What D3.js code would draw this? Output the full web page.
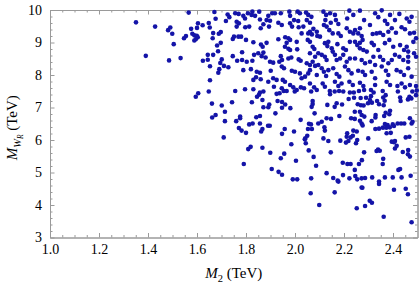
<!DOCTYPE html>
<html>
<head>
<meta charset="utf-8">
<script src="https://cdn.jsdelivr.net/npm/d3@7"></script>
<style>
  body { margin: 0; background: #fff; }
  #chart { width: 420px; height: 289px; }
  svg text { font-family: "Liberation Serif", "DejaVu Serif", serif; }
</style>
</head>
<body>
<div id="chart"></div>
<script>
// axis ranges and ticks
const m2Domain = [1.0, 2.5];
const mwrDomain = [3, 10];
const m2Ticks = [1.0, 1.2, 1.4, 1.6, 1.8, 2.0, 2.2, 2.4];
const m2MinorTicks = [1.05, 1.1, 1.15, 1.25, 1.3, 1.35, 1.45, 1.5, 1.55, 1.65, 1.7, 1.75,
                      1.85, 1.9, 1.95, 2.05, 2.1, 2.15, 2.25, 2.3, 2.35, 2.45];
const mwrTicks = [3, 4, 5, 6, 7, 8, 9, 10];
const mwrMinorTicks = [3.2, 3.4, 3.6, 3.8, 4.2, 4.4, 4.6, 4.8, 5.2, 5.4, 5.6, 5.8, 6.2, 6.4, 6.6, 6.8,
                       7.2, 7.4, 7.6, 7.8, 8.2, 8.4, 8.6, 8.8, 9.2, 9.4, 9.6, 9.8];

// scan points: [M2 (TeV), M_WR (TeV)]
const scanPoints = [
  [1.351,9.62],[1.566,9.92],[1.429,9.49],[1.482,9.38],[1.491,9.46],[1.499,9.27],[1.505,8.95],[1.391,8.59],
  [1.486,8.45],[1.533,8.52],[1.576,9.42],[1.604,9.59],[1.623,9.53],[1.600,9.45],[1.581,9.27],[1.589,9.22],
  [1.599,9.21],[1.603,9.16],[1.595,9.10],[1.589,9.06],[1.555,9.20],[1.547,9.13],[1.648,9.60],[1.652,9.46],
  [1.671,9.94],[1.676,9.73],[1.725,9.86],[1.732,9.78],[1.718,9.66],[1.666,9.29],[1.689,9.27],[1.697,9.32],
  [1.664,9.13],[1.697,8.99],[1.682,8.91],[1.686,8.73],[1.666,8.62],[1.644,8.62],[1.644,8.47],[1.624,8.44],
  [1.701,8.48],[1.695,8.37],[1.710,8.28],[1.728,8.24],[1.653,8.27],[1.691,8.18],[1.687,8.07],[1.653,7.84],
  [1.605,7.44],[1.595,7.33],[1.648,7.49],[1.661,7.12],[1.701,7.06],[1.714,6.87],[1.676,6.77],[1.662,6.69],
  [1.714,6.58],[1.709,6.08],
  [1.756,7.51],[1.743,7.16],[1.760,6.58],[1.776,6.72],[1.776,6.67],[1.771,6.37],[1.782,6.29],[1.800,6.22],
  [1.813,6.48],[1.827,6.51],[1.842,6.70],[1.857,6.74],[1.857,6.51],[1.824,7.16],[1.845,7.33],[1.853,7.39],
  [1.857,7.46],[1.871,7.49],[1.867,7.23],[1.871,7.01],[1.891,7.01],[1.895,7.09],[1.890,6.44],[1.897,6.44],
  [1.867,6.34],[1.862,6.26],[1.920,6.82],[1.925,7.42],[1.937,7.44],[1.954,7.51],[1.966,7.51],[1.929,7.20],
  [1.947,7.17],[1.960,7.09],[1.947,6.99],[1.981,6.98],[1.999,7.49],[2.007,7.54],[2.066,7.49],[2.072,7.20],
  [2.072,7.11],[2.068,7.02],[2.080,6.82],[2.023,6.62],[2.057,6.50],[2.065,6.48],[2.095,6.51],[2.053,6.34],
  [2.069,6.34],[1.958,6.34],[1.947,6.19],[1.996,6.26],[2.050,6.13],[2.042,6.05],[2.040,6.02],[2.044,5.90],
  [1.985,5.87],[2.056,5.68],[1.819,5.79],[1.809,5.72],[1.867,5.76],[1.899,5.61],[1.956,5.58],[1.942,5.44],
  [2.076,5.48],[2.004,5.36],[1.791,5.26],[2.086,5.21],[1.905,5.11],[1.933,5.02],[1.947,4.93],[1.991,4.79],
  [2.009,4.79],[2.066,4.82],[2.064,4.36],[2.099,4.00],
  [2.162,4.39],[2.177,4.72],[2.272,4.54],[2.252,3.90],[2.286,3.97],[2.305,4.13],[2.314,4.07],[2.343,4.72],
  [2.343,4.65],[2.362,3.64],[2.404,4.47],[2.452,4.50],[2.461,4.33],[2.476,3.47],
  [2.142,7.51],[2.162,7.49],[2.180,7.51],[2.197,7.49],[2.224,7.46],[2.240,7.46],[2.261,7.51],[2.282,7.54],
  [2.310,7.54],[2.321,7.46],[2.143,7.41],[2.358,7.51],[2.370,7.38],[2.360,7.31],[2.420,7.49],[2.479,7.49],
  [2.497,7.52],[2.467,7.33],[2.475,7.28],[2.461,7.25],[2.429,7.31],[2.431,7.20],[2.268,7.29],[2.290,7.30],
  [2.310,7.35],[2.306,7.23],[2.314,7.15],[2.298,7.13],[2.335,7.20],[2.343,7.10],[2.362,7.07],[2.366,7.21],
  [2.241,7.30],[2.219,7.26],[2.256,7.10],[2.269,7.07],[2.280,7.06],[2.192,7.09],[2.170,7.13],[2.162,7.02],
  [2.132,7.08],[2.244,6.87],[2.265,6.87],[2.272,6.77],[2.283,6.72],[2.265,6.59],[2.272,6.51],[2.276,6.45],
  [2.229,6.67],[2.244,6.65],[2.181,6.74],[2.147,6.65],[2.129,6.67],[2.109,6.56],[2.120,6.39],[2.122,6.29],
  [2.370,6.84],[2.388,6.90],[2.385,6.79],[2.364,6.74],[2.329,6.77],[2.328,6.69],[2.313,6.58],[2.419,6.51],
  [2.433,6.51],[2.446,6.51],[2.476,6.51],[2.469,6.67],[2.480,6.56],[2.494,7.38],[2.367,6.49],[2.378,6.46],
  [2.399,6.48],[2.404,6.43],[2.387,6.39],[2.373,6.38],[2.359,6.38],[2.343,6.35],[2.328,6.34],[2.374,6.21],
  [2.391,6.22],[2.452,6.08],[2.467,6.10],[2.408,5.97],[2.395,5.95],[2.299,6.05],[2.238,6.29],[2.252,6.26],
  [2.236,6.13],[2.227,6.08],[2.213,6.21],[2.211,6.10],[2.208,5.92],[2.218,5.97],[2.254,6.00],[2.249,5.90],
  [2.185,5.98],[2.116,6.05],[2.136,5.97],[2.146,5.62],[2.129,4.98],[2.156,4.83],[2.174,4.75],[2.195,5.30],
  [2.214,5.26],[2.227,5.26],[2.196,4.92],[2.222,4.82],[2.244,5.08],[2.261,5.26],[2.246,4.89],[2.254,4.79],
  [2.272,4.82],[2.275,4.53],[2.286,4.83],[2.282,5.62],[2.273,5.38],[2.315,4.85],[2.339,5.71],[2.346,5.67],
  [2.333,5.66],[2.360,5.42],[2.358,5.26],[2.367,4.85],[2.404,5.93],[2.408,5.74],[2.415,5.82],[2.399,4.85],
  [2.422,5.08],[2.429,5.11],[2.440,5.63],[2.462,5.69],[2.461,5.56],[2.469,5.49],[2.435,4.85],[2.472,4.90],
  [1.756,9.90],[1.770,9.88],[1.762,9.64],[1.771,9.59],[1.762,9.49],[1.789,9.82],[1.796,9.74],[1.797,9.47],
  [1.813,9.49],[1.808,9.90],[1.826,9.95],[1.823,9.85],[1.837,9.82],[1.854,9.95],[1.857,9.71],[1.884,9.69],
  [1.891,9.82],[1.898,9.67],[1.894,9.49],[1.907,9.90],[1.918,9.90],[1.942,9.90],[1.871,9.56],[1.860,9.44],
  [1.932,9.61],[1.946,9.54],[1.977,9.95],[1.980,9.82],[2.011,9.95],[2.020,9.90],[2.045,9.92],[2.054,9.85],
  [2.067,9.79],[1.996,9.69],[2.013,9.66],[1.980,9.59],[1.988,9.49],[2.048,9.69],[2.061,9.61],[2.015,9.47],
  [2.034,9.49],[2.075,9.42],[2.089,9.33],[2.027,9.28],[2.054,9.28],[2.069,9.25],[1.751,9.18],[1.746,9.11],
  [1.769,9.18],[1.780,9.18],[1.800,9.08],[1.830,9.01],[1.861,8.94],[1.868,8.87],[1.884,8.99],[1.932,9.10],
  [1.960,9.16],[1.973,9.13],[1.966,8.99],[1.980,9.08],[2.007,9.02],[2.052,9.08],[2.061,9.02],[1.959,8.87],
  [1.973,8.81],[1.980,8.77],[2.009,8.79],[2.072,8.87],[2.079,8.80],[1.746,8.58],[1.764,8.44],[1.784,8.46],
  [1.784,8.70],[1.803,8.41],[1.826,8.44],[1.833,8.62],[1.850,8.67],[1.871,8.69],[1.864,8.58],[1.880,8.54],
  [1.898,8.41],[1.911,8.38],[1.936,8.41],[1.947,8.46],[1.942,8.58],[1.973,8.51],[1.985,8.54],[2.015,8.48],
  [2.023,8.44],[2.048,8.36],[2.061,8.31],[2.072,8.41],[2.082,8.56],[1.789,8.15],[1.820,8.18],[1.844,8.10],
  [1.857,8.07],[1.901,8.13],[1.946,8.26],[1.955,8.21],[1.987,8.13],[2.000,8.10],[2.020,8.05],[2.027,7.90],
  [2.041,7.95],[2.061,8.15],[2.054,8.05],[2.082,8.28],[2.095,8.31],[1.891,7.79],[1.911,7.90],[1.925,7.85],
  [1.950,7.85],[1.959,7.79],[1.860,7.87],[1.830,7.85],[1.841,7.93],[1.796,7.56],[1.830,7.56],[1.914,7.64],
  [1.946,7.59],[1.980,7.69],[1.993,7.62],[2.024,7.62],[2.037,7.59],[2.061,7.74],[2.078,7.62],[2.089,7.54],
  [2.116,9.95],[2.127,9.85],[2.124,9.69],[2.118,9.54],[2.143,9.90],[2.163,9.85],[2.146,9.61],[2.167,9.69],
  [2.177,9.57],[2.222,9.98],[2.238,9.85],[2.213,9.74],[2.265,9.98],[2.282,9.69],[2.306,9.54],[2.327,9.90],
  [2.340,9.78],[2.354,9.99],[2.367,9.67],[2.377,9.57],[2.388,9.85],[2.408,9.69],[2.426,9.88],[2.456,9.74],
  [2.467,9.64],[2.476,9.79],[2.435,9.47],[2.449,9.41],[2.061,9.33],[2.091,9.20],[2.102,9.18],[2.129,9.49],
  [2.140,9.38],[2.154,9.28],[2.177,9.28],[2.187,9.20],[2.211,9.44],[2.224,9.33],[2.238,9.28],[2.245,9.38],
  [2.265,9.44],[2.258,9.28],[2.272,9.20],[2.317,9.26],[2.333,9.28],[2.347,9.30],[2.360,9.23],[2.381,9.33],
  [2.395,9.44],[2.412,9.30],[2.469,9.28],[2.486,9.30],[2.122,8.98],[2.136,9.02],[2.132,8.89],[2.150,8.82],
  [2.173,8.95],[2.197,8.82],[2.208,8.77],[2.224,9.02],[2.245,9.02],[2.254,8.92],[2.265,8.99],[2.276,9.08],
  [2.265,8.82],[2.279,8.77],[2.293,8.72],[2.313,8.99],[2.322,8.92],[2.340,8.77],[2.367,8.98],[2.385,9.08],
  [2.401,8.87],[2.429,8.92],[2.445,8.77],[2.456,8.87],[2.462,8.72],[2.462,8.56],[2.483,9.02],[2.494,9.13],
  [2.061,8.67],[2.095,8.67],[2.109,8.62],[2.122,8.56],[2.129,8.46],[2.154,8.72],[2.163,8.62],[2.170,8.46],
  [2.184,8.51],[2.197,8.62],[2.211,8.41],[2.224,8.51],[2.245,8.51],[2.272,8.46],[2.286,8.36],[2.306,8.41],
  [2.320,8.56],[2.327,8.31],[2.347,8.56],[2.360,8.46],[2.381,8.36],[2.395,8.46],[2.408,8.62],[2.426,8.56],
  [2.442,8.46],[2.462,8.41],[2.486,8.67],[2.494,8.56],[2.089,8.00],[2.109,8.21],[2.118,8.10],[2.127,7.97],
  [2.136,8.15],[2.156,8.21],[2.170,8.03],[2.181,7.95],[2.204,8.26],[2.218,8.15],[2.231,8.05],[2.258,8.13],
  [2.276,8.10],[2.286,8.00],[2.313,8.10],[2.327,7.90],[2.354,8.26],[2.371,8.13],[2.381,8.00],[2.415,8.15],
  [2.431,8.10],[2.445,8.00],[2.462,8.21],[2.476,7.95],[2.113,7.74],[2.122,7.64],[2.163,7.79],[2.177,7.66],
  [2.190,7.74],[2.222,7.79],[2.236,7.69],[2.265,7.76],[2.279,7.66],[2.327,7.69],[2.374,7.79],[2.388,7.69],
  [2.418,7.66],[2.435,7.74],[2.449,7.62],[2.469,7.69],[2.494,7.66]
];

const chart = {};

chart.create = function(config){
  this.config = config;
  this.config.margin = {top: 10, right: 2.5, bottom: 51.5, left: 50};
  this.config.width_svg = 420;
  this.config.height_svg = 289;
  this.config.svg = d3.select(`#${config.target}`)
                      .append('svg')
                      .attr('width', this.config.width_svg)
                      .attr('height', this.config.height_svg);
  this.update();
}

chart.update = function(){
  let margin = this.config.margin,
      width_svg = this.config.width_svg,
      height_svg = this.config.height_svg,
      svg = this.config.svg;
  let frameColor = '#9a9a9a';
  let xScale = d3.scaleLinear()
                 .domain(m2Domain)
                 .range([margin.left, width_svg - margin.right]);
  let yScale = d3.scaleLinear()
                 .domain(mwrDomain)
                 .range([height_svg - margin.bottom, margin.top]);

  // frame ticks (pointing inward), labels only on bottom/left
  let styleAxis = g => g.call(g => g.select('.domain').attr('stroke', frameColor).attr('stroke-width', 1))
                        .call(g => g.selectAll('.tick line').attr('stroke', frameColor))
                        .call(g => g.selectAll('.tick text')
                                    .attr('fill', '#000')
                                    .attr('font-size', '14px'));

  svg.append('g')
     .attr('transform', `translate(0, ${yScale(mwrDomain[0])})`)
     .call(d3.axisBottom(xScale).tickValues(m2Ticks).tickSize(-4.5).tickPadding(7)
             .tickFormat(d3.format('.1f')).tickSizeOuter(0))
     .call(styleAxis);
  svg.append('g')
     .attr('transform', `translate(0, ${yScale(mwrDomain[0])})`)
     .call(d3.axisBottom(xScale).tickValues(m2MinorTicks).tickSize(-2.5).tickFormat('').tickSizeOuter(0))
     .call(styleAxis);
  svg.append('g')
     .attr('transform', `translate(0, ${yScale(mwrDomain[1])})`)
     .call(d3.axisTop(xScale).tickValues(m2Ticks).tickSize(-4.5).tickFormat('').tickSizeOuter(0))
     .call(styleAxis);
  svg.append('g')
     .attr('transform', `translate(0, ${yScale(mwrDomain[1])})`)
     .call(d3.axisTop(xScale).tickValues(m2MinorTicks).tickSize(-2.5).tickFormat('').tickSizeOuter(0))
     .call(styleAxis);

  svg.append('g')
     .attr('transform', `translate(${xScale(m2Domain[0])}, 0)`)
     .call(d3.axisLeft(yScale).tickValues(mwrTicks).tickSize(-4.5).tickPadding(8)
             .tickFormat(d3.format('d')).tickSizeOuter(0))
     .call(styleAxis);
  svg.append('g')
     .attr('transform', `translate(${xScale(m2Domain[0])}, 0)`)
     .call(d3.axisLeft(yScale).tickValues(mwrMinorTicks).tickSize(-2.5).tickFormat('').tickSizeOuter(0))
     .call(styleAxis);
  svg.append('g')
     .attr('transform', `translate(${xScale(m2Domain[1])}, 0)`)
     .call(d3.axisRight(yScale).tickValues(mwrTicks).tickSize(-4.5).tickFormat('').tickSizeOuter(0))
     .call(styleAxis);
  svg.append('g')
     .attr('transform', `translate(${xScale(m2Domain[1])}, 0)`)
     .call(d3.axisRight(yScale).tickValues(mwrMinorTicks).tickSize(-2.5).tickFormat('').tickSizeOuter(0))
     .call(styleAxis);

  // points
  svg.append('g')
     .attr('fill', '#1414a8')
     .selectAll('circle')
     .data(scanPoints)
     .enter().append('circle')
             .attr('cx', d => xScale(d[0]))
             .attr('cy', d => yScale(d[1]))
             .attr('r', 2.3);

  // axis titles
  let xTitle = svg.append('text')
                  .attr('x', (xScale(m2Domain[0]) + xScale(m2Domain[1])) / 2)
                  .attr('y', 278)
                  .attr('text-anchor', 'middle')
                  .attr('font-size', '15px');
  xTitle.append('tspan').attr('font-style', 'italic').text('M');
  xTitle.append('tspan').attr('font-size', '10.5px').attr('dy', 3.5).text('2');
  xTitle.append('tspan').attr('dy', -3.5).text(' (TeV)');

  let yTitle = svg.append('text')
                  .attr('transform', `translate(17, ${(yScale(mwrDomain[0]) + yScale(mwrDomain[1])) / 2 + 4}) rotate(-90)`)
                  .attr('text-anchor', 'middle')
                  .attr('font-size', '15px');
  yTitle.append('tspan').attr('font-style', 'italic').text('M');
  yTitle.append('tspan').attr('font-style', 'italic').attr('font-size', '10.5px').attr('dy', 3.5).text('W');
  yTitle.append('tspan').attr('font-style', 'italic').attr('font-size', '7.5px').attr('dy', 2.5).text('R');
  yTitle.append('tspan').attr('dy', -6).text(' (TeV)');
}

chart.create({target: 'chart'});
</script>
</body>
</html>
